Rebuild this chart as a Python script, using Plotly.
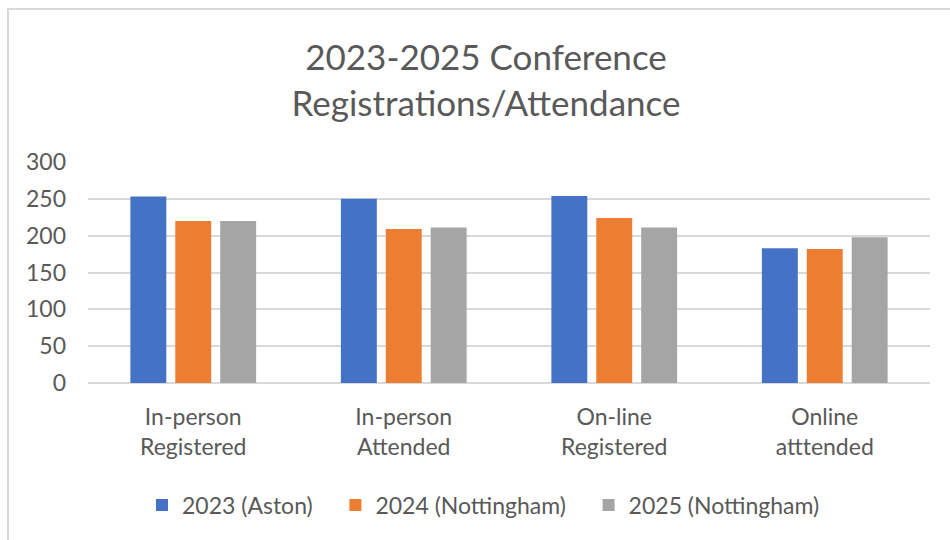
import plotly.graph_objects as go

categories = ["In-person<br>Registered", "In-person<br>Attended", "On-line<br>Registered", "Online<br>atttended"]
series_names = ["2023 (Aston)", "2024 (Nottingham)", "2025 (Nottingham)"]
values_2023 = [253, 250, 254, 183]
values_2024 = [220, 209, 224, 182]
values_2025 = [220, 211, 211, 198]
colors = ["#4472C4", "#ED7D31", "#A5A5A5"]
tick_vals = [0, 50, 100, 150, 200, 250, 300]

FONT = "Lato, Open Sans, sans-serif"
W, H = 950, 540
L, R, T, B = 88, 20, 162, 157
PH = H - T - B
PW = W - L - R
PAD = "\u00a0" * 3

fig = go.Figure()
for name, vals, col in zip(series_names, [values_2023, values_2024, values_2025], colors):
    fig.add_trace(go.Bar(x=categories, y=vals, name=name + PAD, marker_color=col, marker_line_width=0))

fig.update_layout(
    width=W, height=H,
    paper_bgcolor="white", plot_bgcolor="white",
    barmode="group", bargap=0.36, bargroupgap=0.2,
    margin=dict(l=L, r=R, t=T, b=B),
    font=dict(family=FONT, color="#595959", size=23),
    title=dict(text="2023-2025 Conference<br>Registrations/Attendance", x=486 / W, xanchor="center",
               y=1 - 70 / H, yanchor="top", font=dict(size=35, color="#595959", family=FONT)),
    legend=dict(orientation="h", x=0.5 - 17 / PW, xanchor="center", y=-(505 - 383) / PH, yanchor="middle",
                font=dict(size=23, color="#595959"), itemwidth=30, traceorder="normal"),
    showlegend=True,
)
fig.update_yaxes(range=[0, 300], tickvals=tick_vals, showgrid=True, gridcolor="#D9D9D9", gridwidth=1.5,
                 zeroline=True, zerolinecolor="#D9D9D9", zerolinewidth=1.5, showline=False,
                 ticks="", ticklabelstandoff=21, tickfont=dict(size=23, color="#595959"))
fig.update_xaxes(showline=False, ticks="", tickfont=dict(size=23, color="#595959"), ticklabelstandoff=18)
fig.add_shape(type="rect", xref="paper", yref="paper", x0=-(L - 8) / PW, x1=1 + 40 / PW,
              y0=-(B + 40) / PH, y1=1 + (T - 9) / PH,
              line=dict(color="#D9D9D9", width=2), fillcolor="rgba(0,0,0,0)")
fig.write_html("out.html", config={"displayModeBar": False},
               post_script="document.body.style.margin='0';")
